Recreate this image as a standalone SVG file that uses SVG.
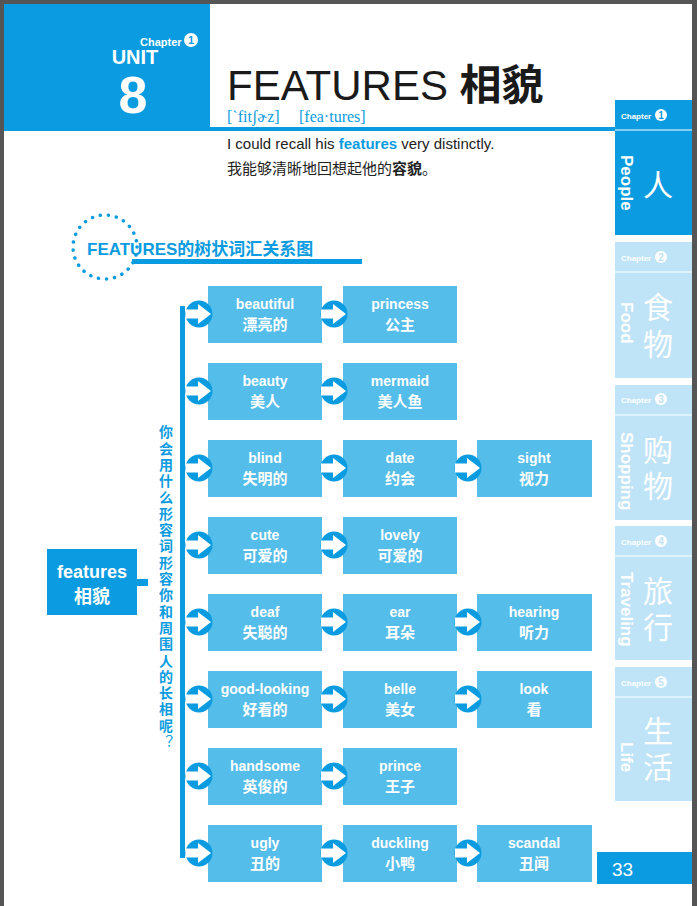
<svg xmlns="http://www.w3.org/2000/svg" width="697" height="906" viewBox="0 0 697 906">
<defs>
<style>
.b{fill:#55bdea}
.t{font-family:"Liberation Sans","Noto Sans CJK SC",sans-serif;fill:#fff;font-weight:bold;text-anchor:middle}
.e{font-size:14px}
.c{font-size:15px}
.tab{fill:#bfe3f7}
.tt{font-family:"Liberation Sans","Noto Sans CJK SC",sans-serif;fill:#fff}
</style>
<g id="arr"><circle cx="0" cy="0" r="13.5" fill="#0a9be0"/><path d="M-13,-4.5 H-1 V-10 L12,0 L-1,10 V4.5 H-13 Z" fill="#fff"/></g>
</defs>
<rect width="697" height="906" fill="#fff"/>
<rect width="697" height="4" fill="#555"/>
<rect x="692" width="5" height="906" fill="#555"/>
<rect x="0" y="0" width="4" height="906" fill="#555"/>
<g id="header">
<rect x="4" y="4" width="206" height="127" fill="#0a9be0"/>
<rect x="210" y="127" width="405" height="4" fill="#0a9be0"/>
<text x="140" y="46" class="tt" font-size="11" font-weight="bold">Chapter</text>
<circle cx="191" cy="40" r="7" fill="#fff"/><text x="191" y="44" font-family="Liberation Sans" font-size="11" font-weight="bold" fill="#0a9be0" text-anchor="middle">1</text>
<text x="135" y="64" class="tt" font-size="20" font-weight="bold" text-anchor="middle">UNIT</text>
<text x="133" y="113" class="tt" font-size="52" font-weight="bold" text-anchor="middle">8</text>
<text x="227" y="100" font-family="Liberation Sans,Noto Sans CJK SC,sans-serif" font-size="42" fill="#1a1a1a">FEATURES <tspan font-weight="bold">相貌</tspan></text>
<text x="227" y="122" font-family="Liberation Serif,serif" font-size="16" fill="#0a9be0">[ˋfitʃɚz]</text>
<text x="299" y="122" font-family="Liberation Serif,serif" font-size="16" fill="#0a9be0">[fea·tures]</text>
<text x="227" y="149" font-family="Liberation Sans,sans-serif" font-size="15" fill="#222">I could recall his <tspan fill="#0a9be0" font-weight="bold">features</tspan> very distinctly.</text>
<text x="227" y="174" font-family="Noto Sans CJK SC,sans-serif" font-size="15" fill="#222">我能够清晰地回想起他的<tspan font-weight="bold">容貌</tspan>。</text>
</g>
<g id="subtitle">
<circle cx="105" cy="247" r="32" fill="none" stroke="#0a9be0" stroke-width="3.5" stroke-dasharray="0.1 8" stroke-linecap="round"/>
<text x="87" y="255" font-family="Liberation Sans,Noto Sans CJK SC,sans-serif" font-size="17" font-weight="bold" fill="#0a9be0">FEATURES的树状词汇关系图</text>
<rect x="132" y="259" width="230" height="5" fill="#0a9be0"/>
</g>
<g id="tabs">
<rect x="615" y="100" width="77" height="135" fill="#0a9be0"/>
<line x1="615" y1="130" x2="692" y2="130" stroke="#fff"/>
<rect x="615" y="242" width="77" height="136" class="tab"/>
<line x1="615" y1="272" x2="692" y2="272" stroke="#fff"/>
<rect x="615" y="385" width="77" height="135" class="tab"/>
<line x1="615" y1="415" x2="692" y2="415" stroke="#fff"/>
<rect x="615" y="526" width="77" height="134" class="tab"/>
<line x1="615" y1="556" x2="692" y2="556" stroke="#fff"/>
<rect x="615" y="667" width="77" height="134" class="tab"/>
<line x1="615" y1="697" x2="692" y2="697" stroke="#fff"/>
<g class="tt" font-size="8" font-weight="bold">
<text x="621" y="119">Chapter</text><text x="621" y="261">Chapter</text><text x="621" y="403">Chapter</text><text x="621" y="545">Chapter</text><text x="621" y="686">Chapter</text>
</g>
<g font-family="Liberation Sans" font-size="10" font-weight="bold" text-anchor="middle">
<circle cx="661" cy="115" r="6" fill="#fff"/><text x="661" y="119" fill="#0a9be0">1</text>
<circle cx="661" cy="257" r="6" fill="#fff"/><text x="661" y="261" fill="#bfe3f7">2</text>
<circle cx="661" cy="399" r="6" fill="#fff"/><text x="661" y="403" fill="#bfe3f7">3</text>
<circle cx="661" cy="541" r="6" fill="#fff"/><text x="661" y="545" fill="#bfe3f7">4</text>
<circle cx="661" cy="682" r="6" fill="#fff"/><text x="661" y="686" fill="#bfe3f7">5</text>
</g>
<g class="tt" font-size="17" font-weight="bold">
<text transform="translate(621,155) rotate(90)">People</text>
<text transform="translate(621,302) rotate(90)">Food</text>
<text transform="translate(621,432) rotate(90)">Shopping</text>
<text transform="translate(621,572) rotate(90)">Traveling</text>
<text transform="translate(621,742) rotate(90)">Life</text>
</g>
<g class="tt" font-size="30" font-family="Noto Sans CJK SC,sans-serif">
<text x="643" y="196">人</text>
<text x="643" y="318">食</text><text x="643" y="355">物</text>
<text x="643" y="461">购</text><text x="643" y="497">物</text>
<text x="643" y="602">旅</text><text x="643" y="638">行</text>
<text x="643" y="742">生</text><text x="643" y="778">活</text>
</g>
<rect x="597" y="852" width="95" height="32" fill="#0a9be0"/>
<text x="612" y="876" class="tt" font-size="19">33</text>
</g>
<g id="root">
<rect x="47" y="549" width="90" height="66" fill="#0a9be0"/>
<text x="92" y="578" class="t" font-size="18">features</text>
<text x="92" y="603" class="t" font-size="18" font-weight="normal">相貌</text>
</g>
<text id="vlabel" x="166" y="425" font-family="Noto Sans CJK SC,sans-serif" font-size="14" font-weight="bold" fill="#0a9be0" style="writing-mode:vertical-rl;glyph-orientation-vertical:0" letter-spacing="2.3">你会用什么形容词形容你和周围人的长相呢<tspan font-weight="normal">？</tspan></text>
<g id="nodes">
<g id="n1"><rect x="208" y="286" width="114" height="57" class="b"/><text x="265" y="309" class="t e">beautiful</text><text x="265" y="330" class="t c">漂亮的</text></g>
<g id="n2"><rect x="343" y="286" width="114" height="57" class="b"/><text x="400" y="309" class="t e">princess</text><text x="400" y="330" class="t c">公主</text></g>
<g id="n3"><rect x="208" y="363" width="114" height="57" class="b"/><text x="265" y="386" class="t e">beauty</text><text x="265" y="407" class="t c">美人</text></g>
<g id="n4"><rect x="343" y="363" width="114" height="57" class="b"/><text x="400" y="386" class="t e">mermaid</text><text x="400" y="407" class="t c">美人鱼</text></g>
<g id="n5"><rect x="208" y="440" width="114" height="57" class="b"/><text x="265" y="463" class="t e">blind</text><text x="265" y="484" class="t c">失明的</text></g>
<g id="n6"><rect x="343" y="440" width="114" height="57" class="b"/><text x="400" y="463" class="t e">date</text><text x="400" y="484" class="t c">约会</text></g>
<g id="n7"><rect x="477" y="440" width="115" height="57" class="b"/><text x="534" y="463" class="t e">sight</text><text x="534" y="484" class="t c">视力</text></g>
<g id="n8"><rect x="208" y="517" width="114" height="57" class="b"/><text x="265" y="540" class="t e">cute</text><text x="265" y="561" class="t c">可爱的</text></g>
<g id="n9"><rect x="343" y="517" width="114" height="57" class="b"/><text x="400" y="540" class="t e">lovely</text><text x="400" y="561" class="t c">可爱的</text></g>
<g id="n10"><rect x="208" y="594" width="114" height="57" class="b"/><text x="265" y="617" class="t e">deaf</text><text x="265" y="638" class="t c">失聪的</text></g>
<g id="n11"><rect x="343" y="594" width="114" height="57" class="b"/><text x="400" y="617" class="t e">ear</text><text x="400" y="638" class="t c">耳朵</text></g>
<g id="n12"><rect x="477" y="594" width="115" height="57" class="b"/><text x="534" y="617" class="t e">hearing</text><text x="534" y="638" class="t c">听力</text></g>
<g id="n13"><rect x="208" y="671" width="114" height="57" class="b"/><text x="265" y="694" class="t e">good-looking</text><text x="265" y="715" class="t c">好看的</text></g>
<g id="n14"><rect x="343" y="671" width="114" height="57" class="b"/><text x="400" y="694" class="t e">belle</text><text x="400" y="715" class="t c">美女</text></g>
<g id="n15"><rect x="477" y="671" width="115" height="57" class="b"/><text x="534" y="694" class="t e">look</text><text x="534" y="715" class="t c">看</text></g>
<g id="n16"><rect x="208" y="748" width="114" height="57" class="b"/><text x="265" y="771" class="t e">handsome</text><text x="265" y="792" class="t c">英俊的</text></g>
<g id="n17"><rect x="343" y="748" width="114" height="57" class="b"/><text x="400" y="771" class="t e">prince</text><text x="400" y="792" class="t c">王子</text></g>
<g id="n18"><rect x="208" y="825" width="114" height="57" class="b"/><text x="265" y="848" class="t e">ugly</text><text x="265" y="869" class="t c">丑的</text></g>
<g id="n19"><rect x="343" y="825" width="114" height="57" class="b"/><text x="400" y="848" class="t e">duckling</text><text x="400" y="869" class="t c">小鸭</text></g>
<g id="n20"><rect x="477" y="825" width="115" height="57" class="b"/><text x="534" y="848" class="t e">scandal</text><text x="534" y="869" class="t c">丑闻</text></g>
</g>
<g id="connectors">
<rect x="180" y="306" width="5" height="552" fill="#0a9be0"/>
<rect x="137" y="579" width="11" height="7" fill="#0a9be0"/>
<use href="#arr" x="199" y="314"/><use href="#arr" x="199" y="391"/><use href="#arr" x="199" y="468"/><use href="#arr" x="199" y="545"/>
<use href="#arr" x="199" y="622"/><use href="#arr" x="199" y="699"/><use href="#arr" x="199" y="776"/><use href="#arr" x="199" y="853"/>
<use href="#arr" x="334" y="314"/><use href="#arr" x="334" y="391"/><use href="#arr" x="334" y="468"/><use href="#arr" x="334" y="545"/>
<use href="#arr" x="334" y="622"/><use href="#arr" x="334" y="699"/><use href="#arr" x="334" y="776"/><use href="#arr" x="334" y="853"/>
<use href="#arr" x="468" y="468"/><use href="#arr" x="468" y="622"/><use href="#arr" x="468" y="699"/><use href="#arr" x="468" y="853"/>
</g>
</svg>
